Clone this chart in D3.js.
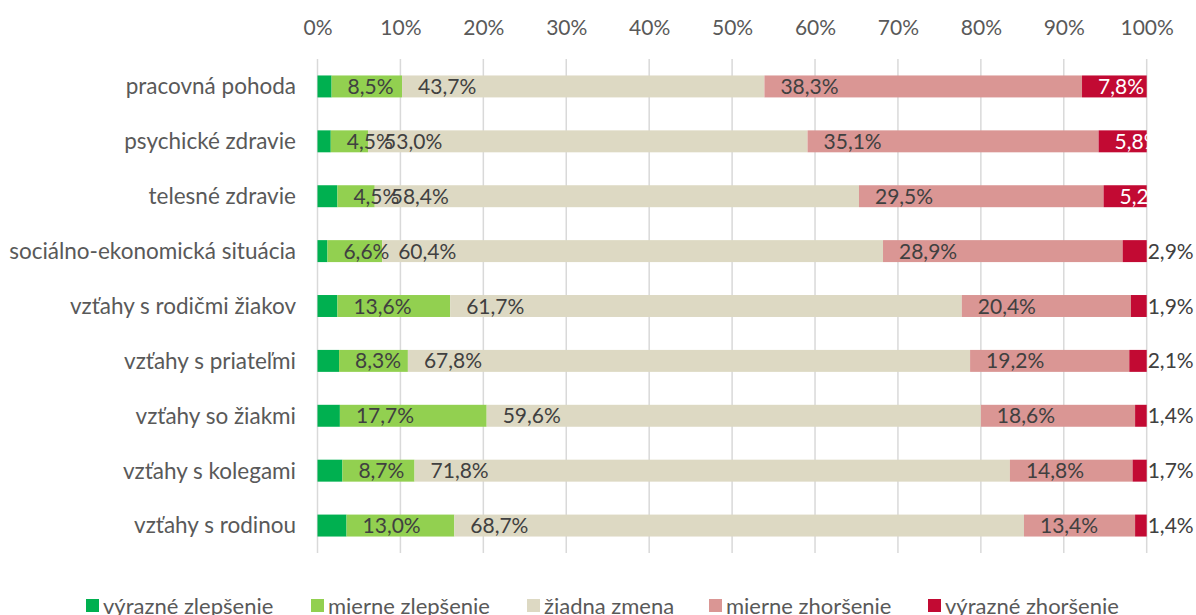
<!DOCTYPE html>
<html><head><meta charset="utf-8">
<script src="https://cdn.jsdelivr.net/npm/d3@7"></script>
<style>
html,body{margin:0;padding:0;background:#fff;}
svg{display:block;font-family:Lato, "Open Sans", sans-serif;}
</style></head>
<body>
<svg id="chart" width="1196" height="615"></svg>
<script>
const categories = ["pracovná pohoda","psychické zdravie","telesné zdravie","sociálno-ekonomická situácia","vzťahy s rodičmi žiakov","vzťahy s priateľmi","vzťahy so žiakmi","vzťahy s kolegami","vzťahy s rodinou"];
const seriesNames = ["výrazné zlepšenie","mierne zlepšenie","žiadna zmena","mierne zhoršenie","výrazné zhoršenie"];
const vyrazneZlepsenie = [1.7,1.6,2.4,1.2,2.4,2.6,2.7,3.0,3.5];
const mierneZlepsenie  = [8.5,4.5,4.5,6.6,13.6,8.3,17.7,8.7,13.0];
const ziadnaZmena      = [43.7,53.0,58.4,60.4,61.7,67.8,59.6,71.8,68.7];
const mierneZhorsenie  = [38.3,35.1,29.5,28.9,20.4,19.2,18.6,14.8,13.4];
const vyrazneZhorsenie = [7.8,5.8,5.2,2.9,1.9,2.1,1.4,1.7,1.4];
const tickValues = [0,10,20,30,40,50,60,70,80,90,100];
const colors = ["#00b050","#92d050","#ddd9c3","#da9694","#c20a33"];

const seriesValues = [vyrazneZlepsenie,mierneZlepsenie,ziadnaZmena,mierneZhorsenie,vyrazneZhorsenie];
const table = categories.map((c,i)=>{const o={cat:c}; seriesNames.forEach((s,j)=>o[s]=seriesValues[j][i]); return o;});
const stack = d3.stack().keys(seriesNames)(table);

const svg = d3.select("#chart");
const x = d3.scaleLinear().domain([0,100]).range([317.5,1146.7]);
const y = d3.scaleBand().domain(categories).range([59,553]).paddingInner(0.6).paddingOuter(0.3);

// gridlines
svg.append("g").selectAll("line").data(tickValues).join("line")
  .attr("x1",d=>x(d)).attr("x2",d=>x(d)).attr("y1",59).attr("y2",553)
  .attr("stroke","#d9d9d9").attr("stroke-width",1.5);

// top axis labels
const ax = svg.append("g").attr("transform","translate(0,35)")
  .call(d3.axisTop(x).tickValues(tickValues).tickFormat(d=>d+"%").tickSize(0).tickPadding(0));
ax.select(".domain").remove();
ax.selectAll("text").attr("font-family","Lato").attr("font-size",21).attr("fill","#595959");

// category axis
const ay = svg.append("g").attr("transform","translate(296,0)")
  .call(d3.axisLeft(y).tickSize(0).tickPadding(0));
ay.select(".domain").remove();
ay.selectAll("text").attr("font-family","Lato").attr("font-size",22.5).attr("fill","#595959").attr("dy","0.35em");

// clip
svg.append("defs").append("clipPath").attr("id","plotclip").append("rect")
  .attr("x",0).attr("y",0).attr("width",x(100)+1).attr("height",615);

const layers = svg.append("g").selectAll("g").data(stack).join("g").attr("fill",(d,i)=>colors[i]);
layers.selectAll("rect").data(d=>d).join("rect")
  .attr("x",d=>x(d[0])).attr("width",d=>x(d[1])-x(d[0]))
  .attr("y",d=>y(d.data.cat)).attr("height",y.bandwidth());

// labels
const fmt = v => v.toFixed(1).replace(".",",")+"%";
const lab = svg.append("g").attr("font-family","Lato").attr("font-size",21);
stack.forEach((layer,j)=>{
  if(j===0) return;
  layer.forEach(d=>{
    const val = seriesValues[j][categories.indexOf(d.data.cat)];
    let tx = x(d[0])+16, fill="#404040", clip=false;
    if(j===4){
      if(val<5){ tx = x(100)+1; }
      else { fill="#ffffff"; clip=true; }
    }
    const t = lab.append("text").attr("x",tx).attr("y",y(d.data.cat)+y.bandwidth()/2)
      .attr("dy","0.36em").attr("fill",fill).text(fmt(val));
    if(clip) t.attr("clip-path","url(#plotclip)");
  });
});

// legend
const lg = svg.append("g").attr("font-family","Lato").attr("font-size",22).attr("fill","#595959");
const legendX = [86,311,527,709,928];
seriesNames.forEach((s,i)=>{
  const g = lg.append("g").attr("transform",`translate(${legendX[i]},606)`);
  g.append("rect").attr("x",0).attr("y",-7).attr("width",13).attr("height",13).attr("fill",colors[i]);
  g.append("text").attr("x",17).attr("y",0).attr("dy","0.36em").text(s);
});
</script>
</body></html>
